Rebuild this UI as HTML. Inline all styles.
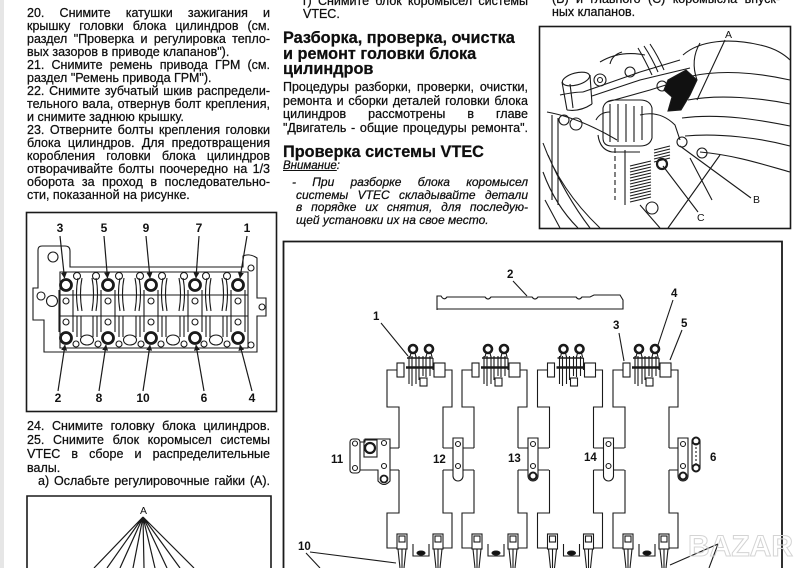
<!DOCTYPE html>
<html><head><meta charset="utf-8">
<style>
html,body{margin:0;padding:0;background:#fff;}
body{width:800px;height:568px;position:relative;overflow:hidden;font-family:"Liberation Sans","DejaVu Sans",sans-serif;color:#0e0e0e;}
.b{position:absolute;font-size:12.5px;-webkit-text-stroke:0.25px #111;}
.b>div{overflow:hidden;height:var(--lh);white-space:normal;}
.j{text-align:justify;text-align-last:justify;word-spacing:-1px;}
svg{position:absolute;left:0;top:0;}
</style></head><body>
<div style="position:absolute;left:0;top:0;width:4px;height:568px;background:#e6e6e6"></div>

<!-- LEFT COLUMN TOP -->
<div class="b" style="left:27px;top:6.5px;width:243px;--lh:13px;line-height:13px;">
<div class="j">20. Снимите катушки зажигания и</div>
<div class="j">крышку головки блока цилиндров (см.</div>
<div class="j">раздел "Проверка и регулировка тепло-</div>
<div>вых зазоров в приводе клапанов").</div>
<div class="j">21. Снимите ремень привода ГРМ (см.</div>
<div>раздел "Ремень привода ГРМ").</div>
<div class="j">22. Снимите зубчатый шкив распредели-</div>
<div class="j">тельного вала, отвернув болт крепления,</div>
<div>и снимите заднюю крышку.</div>
<div class="j">23. Отверните болты крепления головки</div>
<div class="j">блока цилиндров. Для предотвращения</div>
<div class="j">коробления головки блока цилиндров</div>
<div class="j">отворачивайте болты поочередно на 1/3</div>
<div class="j">оборота за проход в последовательно-</div>
<div>сти, показанной на рисунке.</div>
</div>

<!-- LEFT COLUMN BOTTOM -->
<div class="b" style="left:27px;top:420.3px;width:243px;--lh:13.8px;line-height:13.8px;">
<div class="j">24. Снимите головку блока цилиндров.</div>
<div class="j">25. Снимите блок коромысел системы</div>
<div class="j">VTEC в сборе и распределительные</div>
<div>валы.</div>
<div class="j" style="padding-left:11px;">а) Ослабьте регулировочные гайки (А).</div>
</div>

<!-- MIDDLE COLUMN -->
<div class="b" style="left:303px;top:-5px;width:225px;--lh:13.3px;line-height:13.3px;">
<div class="j">г) Снимите блок коромысел системы</div>
<div>VTEC.</div>
</div>
<div class="b" style="left:283px;top:31.2px;width:250px;--lh:15.5px;line-height:15.5px;font-size:16.3px;font-weight:bold;">
<div>Разборка, проверка, очистка</div>
<div>и ремонт головки блока</div>
<div>цилиндров</div>
</div>
<div class="b" style="left:283px;top:81.1px;width:245px;--lh:13.6px;line-height:13.6px;">
<div class="j">Процедуры разборки, проверки, очистки,</div>
<div class="j">ремонта и сборки деталей головки блока</div>
<div class="j">цилиндров рассмотрены в главе</div>
<div class="j">"Двигатель - общие процедуры ремонта".</div>
</div>
<div class="b" style="left:283px;top:145px;width:250px;--lh:15.5px;line-height:15.5px;font-size:16.3px;font-weight:bold;">
<div>Проверка системы VTEC</div>
</div>
<div class="b" style="left:283px;top:159.5px;width:120px;--lh:13px;line-height:13px;font-size:11.5px;font-style:italic;">
<div><span style="text-decoration:underline;">Внимание</span>:</div>
</div>
<div class="b" style="left:292px;top:176.1px;width:236px;--lh:12.7px;line-height:12.7px;font-size:12px;font-style:italic;">
<div class="j">- При разборке блока коромысел</div>
<div class="j" style="padding-left:4px;">системы VTEC складывайте детали</div>
<div class="j" style="padding-left:4px;">в порядке их снятия, для последую-</div>
<div style="padding-left:4px;">щей установки их на свое место.</div>
</div>

<!-- RIGHT COLUMN TOP -->
<div class="b" style="left:552px;top:-7px;width:228px;--lh:13.3px;line-height:13.3px;">
<div class="j">(B) и главного (C) коромысла впуск-</div>
<div>ных клапанов.</div>
</div>

<svg width="800" height="568" viewBox="0 0 800 568" xmlns="http://www.w3.org/2000/svg">
<defs>
<marker id="ah" markerWidth="6" markerHeight="6" refX="5.5" refY="3" orient="auto" markerUnits="userSpaceOnUse">
<path d="M0,0 L6,3 L0,6 Z" fill="#1a1a1a"/></marker>
<g id="unit">
 <rect x="397" y="363" width="7" height="14"/>
 <rect x="434" y="363" width="11" height="14"/>
 <path d="M407,358 H433" stroke-width="1.6"/>
 <path d="M406,367.5 H434" stroke-width="2.4"/>
 <path d="M409,356 V384 M412,356 V386 M416,356 V384 M419,356 V380 M423,356 V376 M426,356 V377 M430,356 V376 M433,358 V370"/>
 <rect x="420" y="378" width="7" height="8"/>
 <circle cx="413" cy="349" r="4" stroke-width="2.6"/>
 <circle cx="429" cy="349" r="4" stroke-width="2.6"/>
 <path d="M411,353 L410,357 M415,353 L416,357 M427,353 L426,357 M431,353 L432,357"/>
</g>
<g id="cap"><path d="M397,370 H387 V407 H399 V448 M399,470 V513 H387 V548 H397 M445,370 H452 V407 H443 V448 M443,470 V513 H452 V548 H443"/></g>
<g id="bot">
 <rect x="397" y="534" width="10" height="15"/>
 <rect x="399" y="536" width="6" height="6"/>
 <path d="M398,549 L400,568 M406,549 L404,568 M402,549 V568"/>
 <rect x="433" y="534" width="10" height="15"/>
 <rect x="435" y="536" width="6" height="6"/>
 <path d="M434,549 L436,568 M442,549 L440,568 M438,549 V568"/>
 <path d="M413,544 V556 H429 V544"/>
 <ellipse cx="421" cy="553" rx="4" ry="2" fill="#111"/>
</g>
<g id="plate">
 <path d="M453,438 H463 V476 A5,5 0 0 1 453,476 Z"/>
 <circle cx="458" cy="444" r="2.5"/><circle cx="458" cy="466" r="2.5"/>
 <path d="M443,448 H453 M463,448 H474 M443,470 H453 M463,470 H474"/>
</g>
</defs>

<g stroke="#1a1a1a" stroke-width="1.1" fill="none">

<!-- ===== Cylinder head diagram ===== -->
<rect x="26.5" y="212.5" width="250" height="199" stroke-width="1.6"/>
<path d="M38,288 V250 Q38,246 42,246 H65 Q70,246 70,251 V267 H243 V256 Q250,253 257,258 V298 H266 V316 H257 V352 H44 V320 H33 V288 Z"/>
<circle cx="53" cy="257" r="5"/>
<circle cx="41" cy="296" r="4"/>
<circle cx="52" cy="301" r="5.5"/>
<circle cx="262" cy="307" r="3"/>
<circle cx="251" cy="268" r="3"/>
<circle cx="251" cy="345" r="3"/>
<path d="M60,272 H248 V348 H60 Z"/>
<path d="M60,295 H248 M60,316 H248"/>
<path d="M59,290 V332 M73,290 V332 M101,290 V332 M115,290 V332 M144,290 V332 M158,290 V332 M188,290 V332 M202,290 V332 M231,290 V332 M245,290 V332"/>
<path d="M78,278 Q75,293 78,311 M82,278 Q79,293 82,311 M92,278 Q95,293 92,311 M96,278 Q99,293 96,311
M120,278 Q117,293 120,311 M124,278 Q121,293 124,311 M135,278 Q138,293 135,311 M139,278 Q142,293 139,311
M163,278 Q160,293 163,311 M167,278 Q164,293 167,311 M179,278 Q182,293 179,311 M183,278 Q186,293 183,311
M207,278 Q204,293 207,311 M211,278 Q208,293 211,311 M222,278 Q225,293 222,311 M226,278 Q229,293 226,311"/>
<path d="M77,316 V337 M81,316 V337 M93,316 V337 M97,316 V337
M119,316 V337 M123,316 V337 M136,316 V337 M140,316 V337
M162,316 V337 M166,316 V337 M180,316 V337 M184,316 V337
M206,316 V337 M210,316 V337 M223,316 V337 M227,316 V337"/>
<g>
<circle cx="77" cy="276" r="3.5"/><circle cx="96" cy="276" r="3.5"/>
<circle cx="119" cy="276" r="3.5"/><circle cx="140" cy="276" r="3.5"/>
<circle cx="162" cy="276" r="3.5"/><circle cx="184" cy="276" r="3.5"/>
<circle cx="206" cy="276" r="3.5"/><circle cx="227" cy="276" r="3.5"/>
<circle cx="66" cy="301" r="3"/><circle cx="108" cy="301" r="3"/><circle cx="151" cy="301" r="3"/><circle cx="195" cy="301" r="3"/><circle cx="238" cy="301" r="3"/>
<circle cx="66" cy="322" r="3"/><circle cx="108" cy="322" r="3"/><circle cx="151" cy="322" r="3"/><circle cx="195" cy="322" r="3"/><circle cx="238" cy="322" r="3"/>
<ellipse cx="87" cy="340" rx="6.5" ry="5"/><ellipse cx="130" cy="340" rx="6.5" ry="5"/><ellipse cx="173" cy="340" rx="6.5" ry="5"/><ellipse cx="216" cy="340" rx="6.5" ry="5"/>
<circle cx="76" cy="344" r="3"/><circle cx="98" cy="344" r="3"/><circle cx="119" cy="344" r="3"/><circle cx="141" cy="344" r="3"/>
<circle cx="161" cy="344" r="3"/><circle cx="184" cy="344" r="3"/><circle cx="204" cy="344" r="3"/><circle cx="227" cy="344" r="3"/>
</g>
<g stroke-width="2.8" fill="#fff">
<circle cx="66" cy="285" r="5.5"/><circle cx="108" cy="285" r="5.5"/><circle cx="151" cy="285" r="5.5"/><circle cx="195" cy="285" r="5.5"/><circle cx="238" cy="285" r="5.5"/>
<circle cx="66" cy="338" r="5.5"/><circle cx="108" cy="338" r="5.5"/><circle cx="151" cy="338" r="5.5"/><circle cx="195" cy="338" r="5.5"/><circle cx="238" cy="338" r="5.5"/>
</g>
<g marker-end="url(#ah)" stroke-width="1.2">
<path d="M60,236 L64.5,278"/><path d="M104,236 L107.5,278"/><path d="M146,236 L150,278"/><path d="M199,236 L196,278"/><path d="M247,236 L240,278"/>
<path d="M58,391 L65,345"/><path d="M99,391 L106,345"/><path d="M143,391 L150,345"/><path d="M204,391 L196,345"/><path d="M252,391 L240,345"/>
</g>

<!-- ===== Bottom-left diagram ===== -->
<path d="M27,568 V496 H271 V568" stroke-width="1.6"/>
<path d="M143,517 L94,568 M143,517 L107,568 M143,517 L120,568 M143,517 L133,568 M143,517 L144,568 M143,517 L155,568 M143,517 L167,568 M143,517 L180,568 M143,517 L194,568" stroke-width="1.2"/>

<!-- ===== Right figure ===== -->
<rect x="539.5" y="26.5" width="251" height="202" stroke-width="1.6"/>
<path d="M547,112 Q580,118 617,140"/>
<path d="M552,115 V200 M558,118 V205"/>
<path d="M543,143 Q560,190 600,228 M543,172 Q555,205 578,228 M545,200 L560,228 M548,155 Q565,195 590,228"/>
<ellipse cx="576" cy="79" rx="14" ry="6" transform="rotate(-15 576 79)"/>
<path d="M562,82 L567,110 M590,75 L592,104 M567,110 Q580,112 592,104 M570,84 L573,108"/>
<circle cx="564" cy="120" r="5"/><circle cx="576" cy="124" r="6"/>
<circle cx="600" cy="80" r="6"/><circle cx="600" cy="80" r="2.5"/>
<circle cx="630" cy="72" r="5"/><circle cx="662" cy="86" r="5"/>
<path d="M583,92 L640,72 L680,60 M592,96 L640,80 L690,68 M607,102 L650,90 L688,78"/>
<path d="M638,48 Q645,60 652,75 M644,46 Q652,58 658,72 M650,44 Q658,56 664,70"/>
<path d="M600,62 Q620,50 645,55 M560,95 Q575,92 583,92 M610,64 Q612,55 622,52"/>
<path d="M603,108 Q605,100 615,100 H640 Q650,100 652,108 V138 Q650,146 640,146 H612 Q603,146 603,138 Z"/>
<path d="M610,104 V142 M618,104 V142 M626,104 V142 M634,106 V142 M642,106 V140"/>
<path d="M596,120 Q600,112 610,112 M640,115 Q660,110 675,125 L680,140 M598,135 Q600,150 612,152 H640"/>
<path d="M668,80 L686,70 L697,80 L690,95 L681,110 L668,111 L672,97 L664,90 Z" fill="#111"/>
<path d="M683,55 C700,40 730,38 760,45 C775,48 785,55 790,60"/>
<path d="M692,76 C720,70 755,72 790,80 M688,100 C720,94 760,98 790,104 M682,118 C720,113 760,120 790,126 M685,136 C720,133 760,138 790,146 M700,152 C735,155 765,165 790,172"/>
<path d="M700,43 Q690,60 697,80"/>
<path d="M630,166 L651,161 M630,169 L651,164 M630,172 L651,167 M630,175 L651,170 M630,178 L651,173 M630,181 L651,176 M630,184 L651,179 M630,187 L651,182 M630,190 L651,185 M630,193 L651,188 M630,196 L651,191 M630,199 L651,194 M630,202 L651,197"/>
<path d="M654,150 L670,146 M654,153 L670,149 M654,156 L670,152 M654,159 L670,155 M654,162 L670,158"/>
<path d="M615,148 V200" stroke-dasharray="5,3"/>
<path d="M625,150 V205 M640,205 L660,228 M720,155 L668,228 M690,158 L712,200"/>
<circle cx="652" cy="208" r="6"/><circle cx="702" cy="153" r="5"/><circle cx="682" cy="142" r="5"/>
<circle cx="662" cy="164" r="5" stroke-width="2.2"/>
<path d="M725,40 L697,100 M751,198 L680,146 M698,212 L663,166"/>

<!-- ===== Big diagram ===== -->
<path d="M283.5,568 V241.5 H782 V568" stroke-width="1.8"/>
<path d="M437,310 V296 H441 Q444,301 447,297 H485 Q488,301 491,297 H532 Q535,301 538,297 H576 Q579,301 582,297 H590 L594,295 H620 L623,300 V309 H437"/>
<use href="#unit"/><use href="#unit" x="75"/><use href="#unit" x="150.5"/><use href="#unit" x="226"/>
<use href="#cap"/><use href="#cap" x="75"/><use href="#cap" x="150.5"/><use href="#cap" x="226"/>
<use href="#bot"/><use href="#bot" x="75"/><use href="#bot" x="150.5"/><use href="#bot" x="226"/>
<use href="#plate"/><use href="#plate" x="75"/><use href="#plate" x="150.5"/>
<circle cx="533" cy="476" r="3.5" stroke-width="2"/>
<path d="M669,448 H678 M669,470 H678 M678,438 H688 V476 A5,5 0 0 1 678,476 Z"/>
<circle cx="683" cy="444" r="2.5"/><circle cx="683" cy="466" r="2.5"/><circle cx="683" cy="476" r="3.5" stroke-width="2"/>
<rect x="692" y="438" width="8" height="33" rx="3"/>
<path d="M696,443 V466" stroke-dasharray="2,2"/>
<circle cx="696" cy="441" r="3.5" stroke-width="2"/><circle cx="696" cy="468" r="3.5" stroke-width="2"/>
<rect x="350" y="439" width="10" height="34" rx="3"/>
<circle cx="355" cy="443.5" r="2.5"/><circle cx="355" cy="468" r="2.5"/>
<path d="M360,442 H365 V439 H390 V481 Q384,488 378,481 V470 H360 M390,448 H399 M390,470 H399"/>
<rect x="364" y="440" width="13" height="17"/>
<circle cx="370" cy="448" r="5" stroke-width="2.2"/>
<circle cx="384" cy="443" r="2.5"/><circle cx="384" cy="466" r="2.5"/><circle cx="384" cy="479" r="3.5" stroke-width="1.8"/>
<path d="M513,281 L527,296 M381,323 L408,356 M619,333 L624,361 M673,300 L658,345 M682,330 L670,360 M310,552 L396,563 M306,553 L320,568 M718,544 L670,565 M718,544 L709,568"/>
</g>

<g font-family="Liberation Sans, sans-serif" font-weight="bold" font-size="12" fill="#111">
<text x="60" y="232" text-anchor="middle">3</text>
<text x="104" y="232" text-anchor="middle">5</text>
<text x="146" y="232" text-anchor="middle">9</text>
<text x="199" y="232" text-anchor="middle">7</text>
<text x="247" y="232" text-anchor="middle">1</text>
<text x="58" y="402" text-anchor="middle">2</text>
<text x="99" y="402" text-anchor="middle">8</text>
<text x="143" y="402" text-anchor="middle">10</text>
<text x="204" y="402" text-anchor="middle">6</text>
<text x="252" y="402" text-anchor="middle">4</text>
</g>
<g font-family="Liberation Sans, sans-serif" font-weight="bold" font-size="11.5" fill="#111">
<text x="373" y="320">1</text>
<text x="507" y="278">2</text>
<text x="613" y="329">3</text>
<text x="671" y="297">4</text>
<text x="681" y="327">5</text>
<text x="331" y="463">11</text>
<text x="433" y="463">12</text>
<text x="508" y="462">13</text>
<text x="584" y="461">14</text>
<text x="710" y="461">6</text>
<text x="298" y="550">10</text>
</g>
<g font-family="Liberation Sans, sans-serif" font-size="10.5" fill="#111">
<text x="725" y="38">A</text>
<text x="753" y="203">B</text>
<text x="697" y="221">C</text>
<text x="143.5" y="514" text-anchor="middle">A</text>
</g>
<text x="688" y="556" font-family="Liberation Sans, sans-serif" font-weight="bold" font-size="30" fill="none" stroke="#d4d4d4" stroke-width="1">BAZAR</text>
</svg>
</body></html>
